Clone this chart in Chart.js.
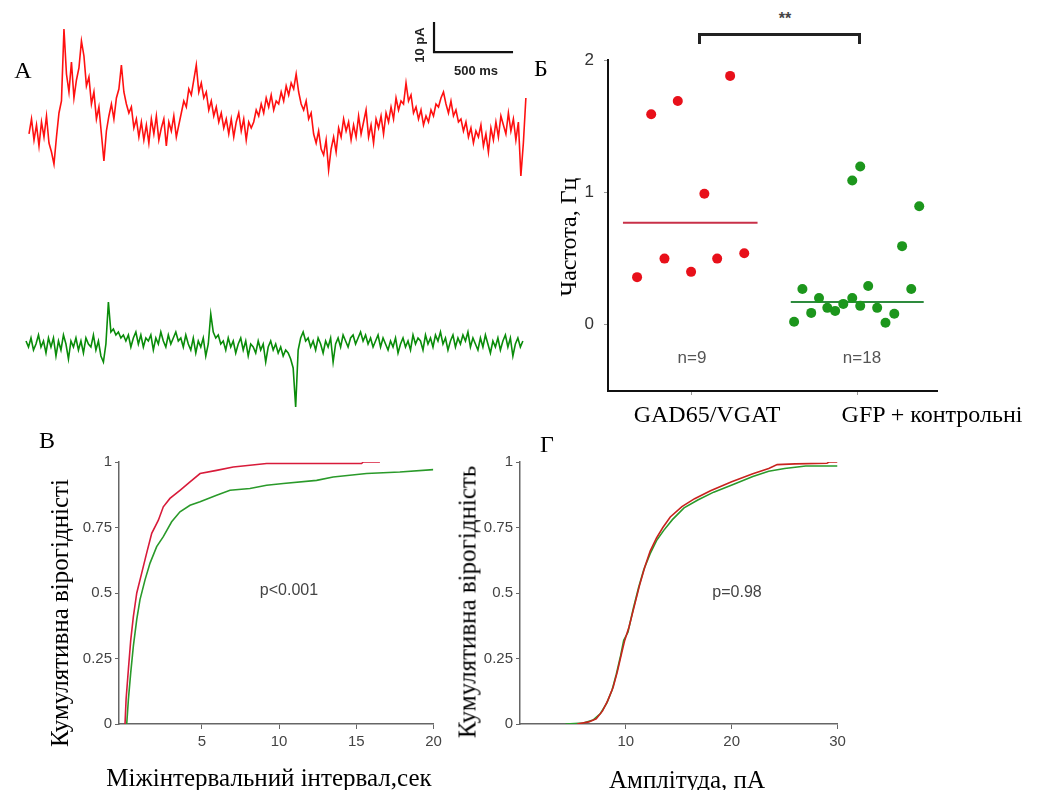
<!DOCTYPE html>
<html lang="uk">
<head>
<meta charset="utf-8">
<title>Спонтанні постсинаптичні струми</title>
<script src="https://cdn.jsdelivr.net/npm/chart.js@4.4.1/dist/chart.umd.min.js"></script>
<style>
  html,body{margin:0;padding:0;background:#fff}
  #fig{position:relative;width:1039px;height:790px;overflow:hidden}
  canvas{position:absolute}
  .t{position:absolute;white-space:nowrap;transform:translate(-50%,-50%);line-height:1}
  .serif{font-family:'Liberation Serif','Times New Roman',serif;color:#000}
  .sans{font-family:'Liberation Sans',Arial,sans-serif}
  .rot{transform:translate(-50%,-50%) rotate(-90deg)}
  .bracket{position:absolute;left:698px;top:33px;width:157px;height:8px;border:3px solid #222;border-bottom:none}
</style>
</head>
<body>
<div id="fig">
  <canvas id="chartA" width="512" height="400" style="left:20px;top:10px"></canvas>
  <canvas id="chartB" width="420" height="370" style="left:540px;top:50px"></canvas>
  <canvas id="chartV" width="430" height="345" style="left:20px;top:445px"></canvas>
  <canvas id="chartG" width="420" height="345" style="left:440px;top:445px"></canvas>

  <div class="t serif" style="left:23px;top:70px;font-size:24px">A</div>
  <div class="t sans rot" style="left:419px;top:45px;font-size:13px;font-weight:bold;color:#222">10 pA</div>
  <div class="t sans" style="left:476px;top:70px;font-size:13px;font-weight:bold;color:#222">500 ms</div>

  <div class="t serif" style="left:541px;top:68px;font-size:24px">Б</div>
  <div class="bracket"></div>
  <div class="t sans" style="left:785px;top:19px;font-size:16px;font-weight:bold;color:#444">**</div>
  <div class="t serif rot" style="left:568px;top:237px;font-size:24px">Частота, Гц</div>
  <div class="t sans" style="left:692px;top:357px;font-size:17px;color:#555">n=9</div>
  <div class="t sans" style="left:862px;top:357px;font-size:17px;color:#555">n=18</div>
  <div class="t serif" style="left:707px;top:414px;font-size:24px">GAD65/VGAT</div>
  <div class="t serif" style="left:932px;top:414px;font-size:24px">GFP + контрольні</div>

  <div class="t serif" style="left:47px;top:440px;font-size:24px">В</div>
  <div class="t serif rot" style="left:59px;top:613px;font-size:25px">Кумулятивна вірогідністі</div>
  <div class="t sans" style="left:289px;top:590px;font-size:16px;color:#444">p&lt;0.001</div>
  <div class="t serif" style="left:269px;top:777px;font-size:25px">Міжінтервальний інтервал,сек</div>

  <div class="t serif" style="left:547px;top:444px;font-size:24px">Г</div>
  <div class="t serif rot" style="left:467px;top:602px;font-size:25px">Кумулятивна вірогідність</div>
  <div class="t sans" style="left:737px;top:592px;font-size:16px;color:#444">p=0.98</div>
  <div class="t serif" style="left:687px;top:779px;font-size:25px">Амплітуда, пА</div>
</div>
<script>
/* ── Panel A: current traces (pA relative to baseline, one value per 15.8 ms) ── */
const redTrace=[
  -2,3,-4,1,-6,2,-3,4,-5,-8,
  -12,-3,5,9,33,18,12,22,10,16,
  20,29,24,14,17,8,12,3,7,-2,
  -11,-1,4,8,3,10,13,21,12,8,
  5,7,0,3,-3,2,-4,1,-5,3,
  -2,4,-4,0,3,-6,2,-1,4,-3,
  1,5,9,7,13,11,16,21,12,15,
  10,12,6,9,4,7,2,5,0,3,
  -2,3,-3,2,5,-1,3,-4,2,0,
  2,6,4,8,5,10,7,11,6,9,
  8,12,9,14,11,15,13,18,12,8,
  6,9,3,5,-2,-5,-1,-7,-9,-4,
  -14,-7,-3,-8,0,-3,3,-1,2,-4,
  1,-3,4,-2,2,6,-3,1,-5,3,
  0,4,-2,5,2,7,3,10,6,9,
  8,15,9,11,5,7,3,6,1,4,
  2,6,4,8,7,10,12,8,5,9,
  4,6,2,3,-1,2,-3,0,-5,-1,
  -3,1,-6,-2,-8,0,-4,2,-3,4,
  1,-2,5,-1,3,-4,2,-16,-5,10
];
const greenTrace=[
  1,-1,2,-2,0,3,-1,1,-3,2,
  -1,2,-4,1,-2,3,0,-5,1,-1,
  2,-2,1,-3,2,0,-1,3,-2,1,
  -4,-6,0,14,4,5,3,4,2,3,
  1,3,-1,2,4,0,3,-1,2,1,
  3,-2,2,0,4,1,-1,3,0,2,
  4,1,2,-1,3,0,-2,2,-3,1,
  -1,2,-4,0,10,4,2,3,0,1,
  -2,2,-1,1,-3,0,2,-2,1,-4,
  0,-1,-3,1,-2,0,-6,-1,1,-2,
  0,-3,-1,-4,-2,-3,-5,-8,-21,-2,
  2,4,1,2,-1,1,-2,2,0,-3,
  1,-1,2,-6,0,2,-1,3,1,-1,
  2,3,0,2,4,1,3,0,2,-1,
  1,3,-1,2,0,-2,1,-1,2,-3,
  0,2,-1,1,-2,3,0,2,1,-2,
  3,0,2,-1,3,1,4,0,2,-2,
  1,3,-1,2,0,3,1,4,-1,2,
  0,-2,2,-1,3,0,-3,1,-1,2,
  -2,1,3,-1,2,-4,0,2,-1,1
];
const traceStepMs=15.8;
const redStartMs=57, greenStartMs=38;
const redBasePA=94, greenBasePA=22;
const scaleBarMs=500, scaleBarPA=10;
const scaleBarAt={x:2620,y:119.3};

/* ── Panel Б: frequency per cell (x = jittered group position, y = Hz) ── */
const groupTicks=[1,2];
const freqTicks=[0,1,2];
const gadX=[0.76,0.92,1.235,1.08,0.675,0.84,1.0,1.157,1.32];
const gadHz=[1.59,1.69,1.88,0.99,0.36,0.50,0.40,0.50,0.54];
const gfpX=[2.018,1.97,2.373,2.27,1.67,2.066,2.325,1.77,1.97,1.82,1.916,2.018,2.12,1.867,1.723,2.223,1.62,2.17];
const gfpHz=[1.195,1.09,0.895,0.594,0.27,0.293,0.27,0.203,0.203,0.128,0.158,0.143,0.128,0.105,0.09,0.083,0.023,0.015];
const gadMean=0.77, gfpMean=0.173;
const gadMeanSpan=[0.59,1.40], gfpMeanSpan=[1.60,2.40];

/* ── Panel В: cumulative inter-event interval ── */
const ivRedX=[0.02,0.09,0.24,0.39,0.56,0.78,1.1,1.42,1.75,2.18,2.5,2.93,3.58,4.23,4.88,5.95,7.03,9.19,15.34,15.45,16.53];
const ivRedY=[0,0.095,0.21,0.32,0.41,0.5,0.576,0.652,0.728,0.778,0.829,0.861,0.892,0.924,0.956,0.968,0.981,0.994,0.994,1.0,1.0];
const ivGreenX=[0.13,0.24,0.39,0.56,0.78,0.99,1.32,1.64,2.07,2.5,3.04,3.58,4.23,4.88,5.95,6.82,8.11,9.19,10.27,12.43,13.5,15.66,17.82,19.98];
const ivGreenY=[0,0.095,0.196,0.297,0.399,0.475,0.551,0.614,0.677,0.715,0.772,0.81,0.835,0.848,0.873,0.892,0.899,0.911,0.918,0.93,0.943,0.956,0.962,0.971];
const ivTicksX=[5,10,15,20];
const probTicks=[0,0.25,0.5,0.75,1];

/* ── Panel Г: cumulative amplitude ── */
const ampRedX=[5.4,6.5,7.2,7.8,8.3,8.8,9.2,9.6,9.9,10.3,10.8,11.3,11.8,12.3,12.9,13.5,14.2,15.3,16.5,18,20,22,23.5,24.3,26,29,29.2,30];
const ampRedY=[0,0.008,0.02,0.05,0.09,0.14,0.2,0.27,0.32,0.37,0.45,0.53,0.6,0.66,0.71,0.75,0.79,0.83,0.86,0.89,0.925,0.955,0.975,0.99,0.993,0.995,1.0,1.0];
const ampGreenX=[4.3,6,6.9,7.6,8.2,8.7,9.1,9.5,9.8,10.2,10.7,11.2,11.7,12.3,12.9,13.6,14.4,15.5,16.8,18.3,20.2,22,23.5,25,27,30];
const ampGreenY=[0,0.004,0.015,0.04,0.08,0.13,0.19,0.26,0.32,0.35,0.44,0.52,0.59,0.65,0.7,0.74,0.78,0.825,0.855,0.885,0.915,0.945,0.965,0.975,0.985,0.985];
const ampTicksX=[10,20,30];

const sansFont='"Liberation Sans", Arial, sans-serif';
const xy=(xs,ys)=>xs.map((x,i)=>({x:x,y:ys[i]}));
const noPlugins={legend:{display:false},tooltip:{enabled:false}};

/* ── A ── */
function tracePoints(vals,start,base){
  return vals.map((v,i)=>({x:start+i*traceStepMs,y:base+v}));
}
new Chart(document.getElementById('chartA'),{
  type:'line',
  data:{datasets:[
    {data:tracePoints(redTrace,redStartMs,redBasePA),borderColor:'#ff1010',borderWidth:1.6,pointRadius:0},
    {data:tracePoints(greenTrace,greenStartMs,greenBasePA),borderColor:'#0a8c0a',borderWidth:1.6,pointRadius:0},
    {data:[
      {x:scaleBarAt.x,y:scaleBarAt.y+scaleBarPA},
      {x:scaleBarAt.x,y:scaleBarAt.y},
      {x:scaleBarAt.x+scaleBarMs,y:scaleBarAt.y}
    ],borderColor:'#111',borderWidth:2.2,pointRadius:0}
  ]},
  options:{
    responsive:false,animation:false,
    layout:{padding:0},
    plugins:noPlugins,
    scales:{
      x:{type:'linear',min:0,max:3240,display:false},
      y:{min:0,max:133.33,display:false}
    }
  }
});

/* ── Б ── */
new Chart(document.getElementById('chartB'),{
  type:'scatter',
  data:{datasets:[
    {data:xy(gadX,gadHz),backgroundColor:'#e8101a',borderWidth:0,pointRadius:5},
    {data:xy(gfpX,gfpHz),backgroundColor:'#1c961c',borderWidth:0,pointRadius:5},
    {type:'line',data:gadMeanSpan.map(x=>({x:x,y:gadMean})),borderColor:'#c83048',borderWidth:2,pointRadius:0},
    {type:'line',data:gfpMeanSpan.map(x=>({x:x,y:gfpMean})),borderColor:'#2e8b3e',borderWidth:2,pointRadius:0}
  ]},
  options:{
    responsive:false,animation:false,
    layout:{padding:{left:0,top:10,right:23,bottom:0}},
    plugins:noPlugins,
    scales:{
      x:{
        type:'linear',min:0.5,max:2.48,
        afterBuildTicks:s=>{s.ticks=groupTicks.map(v=>({value:v}));},
        afterFit:s=>{s.height=29;},
        ticks:{callback:()=>''},
        grid:{drawOnChartArea:false,tickLength:4,color:'#999'},
        border:{color:'#111',width:2}
      },
      y:{
        min:-0.5,max:2,
        afterBuildTicks:s=>{s.ticks=freqTicks.map(v=>({value:v}));},
        afterFit:s=>{s.width=68;s.paddingTop=0;s.paddingBottom=0;},
        ticks:{color:'#333',padding:10,font:{family:sansFont,size:17}},
        grid:{drawOnChartArea:false,tickLength:4,color:'#999'},
        border:{color:'#111',width:2}
      }
    }
  }
});

/* ── cumulative panels (В, Г) ── */
function cumulative(id,redPts,greenPts,xMin,xMax,xTicks,yAxisW,padRight,redColor){
  new Chart(document.getElementById(id),{
    type:'line',
    data:{datasets:[
      {data:redPts,borderColor:redColor,borderWidth:1.6,pointRadius:0},
      {data:greenPts,borderColor:'#2a9a2a',borderWidth:1.6,pointRadius:0}
    ]},
    options:{
      responsive:false,animation:false,
      layout:{padding:{left:0,top:17,right:padRight,bottom:0}},
      plugins:noPlugins,
      scales:{
        x:{
          type:'linear',min:xMin,max:xMax,
          afterBuildTicks:s=>{s.ticks=xTicks.map(v=>({value:v}));},
          afterFit:s=>{s.height=66;},
          ticks:{color:'#444',padding:4,maxRotation:0,font:{family:sansFont,size:15}},
          grid:{drawOnChartArea:false,tickLength:5,color:'#666'},
          border:{color:'#666',width:1.5}
        },
        y:{
          min:0,max:1,
          afterBuildTicks:s=>{s.ticks=probTicks.map(v=>({value:v}));},
          afterFit:s=>{s.width=yAxisW;},
          ticks:{color:'#444',padding:3,font:{family:sansFont,size:15},callback:v=>String(v)},
          grid:{drawOnChartArea:false,tickLength:4,color:'#666'},
          border:{color:'#666',width:1.5}
        }
      }
    }
  });
}
cumulative('chartV',xy(ivRedX,ivRedY),xy(ivGreenX,ivGreenY),-0.37,20,ivTicksX,99,16.5,'#d81b3a');
cumulative('chartG',xy(ampRedX,ampRedY),xy(ampGreenX,ampGreenY),0,30,ampTicksX,80,22.5,'#c8231e');
</script>
</body>
</html>
